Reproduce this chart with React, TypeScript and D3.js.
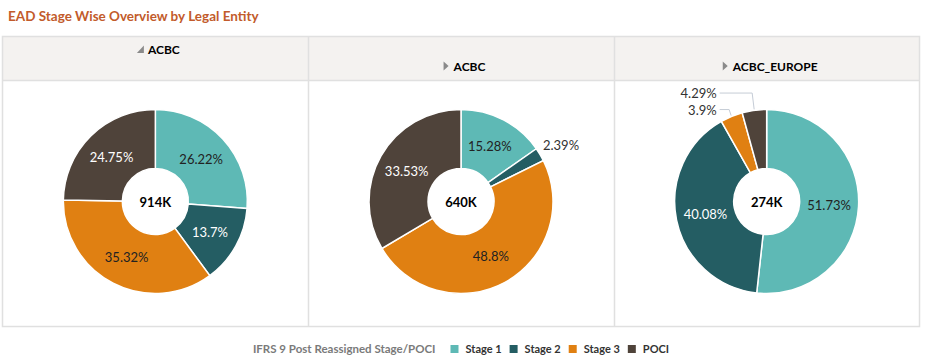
import { useEffect, useRef } from "react";
import * as d3 from "d3";

// Legal entities shown as columns
const entities = ["ACBC", "ACBC", "ACBC_EUROPE"];
const expanded = [true, false, false];

// Stage categories and colors
const stages = ["Stage 1", "Stage 2", "Stage 3", "POCI"];
const stageColors = ["#5eb9b5", "#245d63", "#e08012", "#4f433a"];

// Percent share per stage, one array per entity
const acbcShares = [26.22, 13.7, 35.32, 24.75];
const acbc2Shares = [15.28, 2.39, 48.8, 33.53];
const europeShares = [51.73, 40.08, 3.9, 4.29];

// EAD totals per entity
const totals = [914000, 640000, 274000];

const W = 925;
const H = 361;

export default function App() {
  const ref = useRef<SVGSVGElement | null>(null);

  useEffect(() => {
    document.body.style.margin = "0";
    const svg = d3.select(ref.current);
    svg.selectAll("*").remove();

    const font = "Lato, 'Open Sans', sans-serif";
    const shares = [acbcShares, acbc2Shares, europeShares];

    // Title
    svg
      .append("text")
      .attr("x", 8)
      .attr("y", 21)
      .style("font-family", font)
      .style("font-size", "13.5px")
      .style("font-weight", "bold")
      .style("fill", "#c25b2b")
      .text("EAD Stage Wise Overview by Legal Entity");

    // Panel frame
    const left = 2.5;
    const right = 919.5;
    const top = 36.5;
    const headerBottom = 80.5;
    const bottom = 326.5;

    const col = d3
      .scaleBand<number>()
      .domain(d3.range(entities.length))
      .range([left, right]);

    svg
      .append("rect")
      .attr("x", left)
      .attr("y", top)
      .attr("width", right - left)
      .attr("height", headerBottom - top)
      .style("fill", "#f4f2f0");

    svg
      .append("rect")
      .attr("x", left)
      .attr("y", top)
      .attr("width", right - left)
      .attr("height", bottom - top)
      .style("fill", "none")
      .style("stroke", "#e0e0e0")
      .style("stroke-width", 1.5);

    svg
      .append("line")
      .attr("x1", left)
      .attr("x2", right)
      .attr("y1", headerBottom)
      .attr("y2", headerBottom)
      .style("stroke", "#e0e0e0")
      .style("stroke-width", 1.5);

    d3.range(1, entities.length).forEach((i) => {
      svg
        .append("line")
        .attr("x1", Math.round(col(i)!) + 0.5)
        .attr("x2", Math.round(col(i)!) + 0.5)
        .attr("y1", top)
        .attr("y2", bottom)
        .style("stroke", "#e0e0e0")
        .style("stroke-width", 1.5);
    });

    const pie = d3
      .pie<number>()
      .sort(null)
      .value((d) => d);
    const inner = 33;
    const outer = 92;
    const arc = d3.arc<d3.PieArcDatum<number>>().innerRadius(inner).outerRadius(outer);
    const fmtTotal = (v: number) => d3.format(".3s")(v).replace("k", "K");

    entities.forEach((name, i) => {
      const cx = col(i)! + col.bandwidth() / 2;
      const cy = 201.5;

      // Header label with expand/collapse triangle
      const hy = expanded[i] ? 54 : 71;
      const ht = svg
        .append("text")
        .attr("y", hy)
        .style("font-family", font)
        .style("font-size", "12px")
        .style("font-weight", "bold")
        .style("fill", "#000")
        .text(name);
      const tw = (ht.node() as SVGTextElement).getComputedTextLength();
      const groupW = tw + 11;
      const gx = cx + 3 - groupW / 2;
      ht.attr("x", gx + 11);
      if (expanded[i]) {
        svg
          .append("path")
          .attr("d", `M${gx + 7},${hy - 8.5} L${gx + 7},${hy - 1} L${gx},${hy - 1} Z`)
          .style("fill", "#8a8a8a");
      } else {
        svg
          .append("path")
          .attr("d", `M${gx + 1},${hy - 9.5} L${gx + 6},${hy - 5} L${gx + 1},${hy - 0.5} Z`)
          .style("fill", "#8a8a8a");
      }

      const g = svg.append("g").attr("transform", `translate(${cx},${cy})`);
      const arcs = pie(shares[i]);

      g.selectAll("path.slice")
        .data(arcs)
        .enter()
        .append("path")
        .attr("class", "slice")
        .attr("d", arc)
        .style("fill", (_d, j) => stageColors[j])
        .style("stroke", "#fff")
        .style("stroke-width", 1.5);

      // Inside labels for larger slices
      arcs.forEach((a, j) => {
        if (a.data < 5) return;
        const [x, y] = arc.centroid(a);
        g.append("text")
          .attr("x", x)
          .attr("y", y)
          .attr("text-anchor", "middle")
          .attr("dominant-baseline", "central")
          .style("font-family", font)
          .style("font-size", "13px")
          .style("fill", j === 1 || j === 3 ? "#fff" : "#222")
          .text(`${a.data}%`);
      });

      // Outside labels for small slices
      let prevY = Infinity;
      arcs.forEach((a) => {
        if (a.data >= 5) return;
        const mid = (a.startAngle + a.endAngle) / 2;
        const px = Math.sin(mid) * (outer + 1);
        const py = -Math.cos(mid) * (outer + 1);
        if (px >= 0) {
          g.append("text")
            .attr("x", px + 2)
            .attr("y", py - 9.5)
            .attr("dominant-baseline", "central")
            .style("font-family", font)
            .style("font-size", "13px")
            .style("fill", "#333")
            .text(`${a.data}%`);
        } else {
          const ly = Math.min(py - 6, prevY - 16.5);
          prevY = ly;
          const lx = -47;
          g.append("polyline")
            .attr("points", `${px},${py} ${px - 2},${ly} ${lx},${ly}`)
            .style("fill", "none")
            .style("stroke", "#c5ccd6")
            .style("stroke-width", 1);
          g.append("text")
            .attr("x", lx - 3)
            .attr("y", ly)
            .attr("text-anchor", "end")
            .attr("dominant-baseline", "central")
            .style("font-family", font)
            .style("font-size", "13px")
            .style("fill", "#333")
            .text(`${a.data}%`);
        }
      });

      // Total in the hole
      g.append("text")
        .attr("text-anchor", "middle")
        .attr("dominant-baseline", "central")
        .style("font-family", font)
        .style("font-size", "13px")
        .style("font-weight", "bold")
        .style("fill", "#000")
        .text(fmtTotal(totals[i]));
    });

    // Legend
    const legend = svg.append("g");
    const ly = 353;
    const lt = legend
      .append("text")
      .attr("x", 0)
      .attr("y", ly)
      .style("font-family", font)
      .style("font-size", "11.5px")
      .style("font-weight", "bold")
      .style("fill", "#7a7a7a")
      .text("IFRS 9 Post Reassigned Stage/POCI");
    let cursor = (lt.node() as SVGTextElement).getComputedTextLength() + 15;
    stages.forEach((s, j) => {
      legend
        .append("rect")
        .attr("x", cursor)
        .attr("y", ly - 8)
        .attr("width", 8)
        .attr("height", 8)
        .style("fill", stageColors[j]);
      const t = legend
        .append("text")
        .attr("x", cursor + 15)
        .attr("y", ly)
        .style("font-family", font)
        .style("font-size", "11px")
        .style("font-weight", "bold")
        .style("fill", "#333")
        .text(s);
      cursor += 15 + (t.node() as SVGTextElement).getComputedTextLength() + 8;
    });
    const legendW = cursor - 8;
    legend.attr("transform", `translate(${(left + right) / 2 - legendW / 2},0)`);
  }, []);

  return <svg ref={ref} width={W} height={H} style={{ display: "block", background: "#fff" }} />;
}
